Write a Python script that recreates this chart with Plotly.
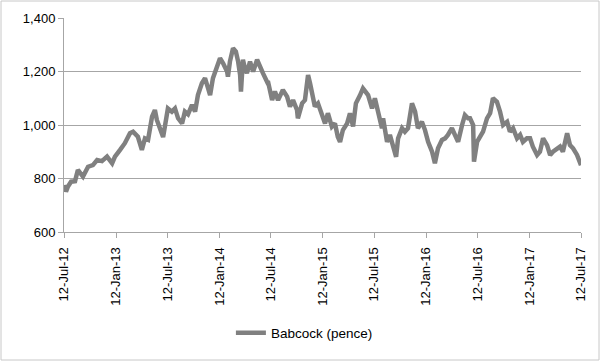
import plotly.graph_objects as go

dates = [
    "2012-07-15", "2012-07-19", "2012-07-26", "2012-08-06", "2012-08-20", "2012-08-30",
    "2012-09-17", "2012-10-05", "2012-10-22", "2012-11-06", "2012-11-23", "2012-12-11",
    "2012-12-29", "2013-01-08", "2013-01-26", "2013-02-12", "2013-03-02", "2013-03-13",
    "2013-03-30", "2013-04-13", "2013-04-24", "2013-05-05", "2013-05-19", "2013-05-29",
    "2013-06-05", "2013-06-16", "2013-06-27", "2013-07-14", "2013-07-28", "2013-08-08",
    "2013-08-19", "2013-09-02", "2013-09-12", "2013-09-23", "2013-10-07", "2013-10-18",
    "2013-10-28", "2013-11-11", "2013-11-22", "2013-12-03", "2013-12-10", "2013-12-20",
    "2014-01-03", "2014-01-14", "2014-01-25", "2014-02-08", "2014-02-11", "2014-02-18",
    "2014-03-01", "2014-03-11", "2014-03-19", "2014-03-26", "2014-03-29", "2014-04-05",
    "2014-04-12", "2014-04-19", "2014-04-30", "2014-05-11", "2014-05-25", "2014-06-04",
    "2014-06-15", "2014-06-29", "2014-07-02", "2014-07-17", "2014-07-27", "2014-08-07",
    "2014-08-24", "2014-09-08", "2014-09-18", "2014-09-29", "2014-10-13", "2014-10-16",
    "2014-10-31", "2014-11-10", "2014-11-21", "2014-11-28", "2014-12-05", "2014-12-15",
    "2014-12-26", "2015-01-09", "2015-01-20", "2015-01-30", "2015-02-13", "2015-02-24",
    "2015-03-06", "2015-03-14", "2015-03-24", "2015-04-08", "2015-04-18", "2015-04-29",
    "2015-05-09", "2015-05-23", "2015-06-03", "2015-06-21", "2015-07-05", "2015-07-15",
    "2015-07-26", "2015-08-09", "2015-08-13", "2015-08-27", "2015-09-06", "2015-09-17",
    "2015-09-28", "2015-10-05", "2015-10-19", "2015-10-29", "2015-11-09", "2015-11-23",
    "2015-12-04", "2015-12-14", "2015-12-28", "2016-01-08", "2016-01-19", "2016-02-02",
    "2016-02-12", "2016-02-23", "2016-03-08", "2016-03-19", "2016-03-29", "2016-04-12",
    "2016-04-23", "2016-05-04", "2016-05-18", "2016-05-28", "2016-06-08", "2016-06-15",
    "2016-06-26", "2016-06-29", "2016-07-10", "2016-07-20", "2016-07-31", "2016-08-14",
    "2016-08-25", "2016-09-04", "2016-09-18", "2016-09-29", "2016-10-10", "2016-10-24",
    "2016-11-03", "2016-11-14", "2016-11-28", "2016-12-09", "2016-12-19", "2017-01-02",
    "2017-01-13", "2017-01-23", "2017-02-07", "2017-02-17", "2017-02-28", "2017-03-14",
    "2017-03-25", "2017-04-04", "2017-04-18", "2017-04-29", "2017-05-09", "2017-05-24",
    "2017-06-03", "2017-06-14", "2017-06-28", "2017-07-09", "2017-07-12",
]

babcock_pence = [
    776, 751, 770, 788, 790, 832,
    807, 844, 850, 869, 865, 882,
    857, 882, 907, 932, 969, 975,
    956, 907, 950, 945, 1031, 1056,
    1019, 981, 955, 1062, 1050, 1062,
    1025, 1006, 1050, 1040, 1075, 1050,
    1112, 1156, 1175, 1137, 1112, 1175,
    1212, 1250, 1231, 1200, 1181, 1237,
    1287, 1275, 1237, 1187, 1125, 1244,
    1212, 1194, 1237, 1200, 1244, 1215,
    1193, 1162, 1165, 1093, 1125, 1093,
    1131, 1106, 1069, 1093, 1056, 1025,
    1081, 1093, 1187, 1156, 1119, 1069,
    1081, 1044, 1006, 1044, 994, 1006,
    956, 937, 981, 1006, 1044, 994,
    1081, 1110, 1137, 1112, 1062, 1100,
    1050, 988, 1025, 937, 963, 925,
    881, 950, 988, 975, 988, 1081,
    1050, 988, 1012, 981, 937, 900,
    857, 913, 944, 950, 963, 988,
    963, 937, 1000, 1037, 1025, 1025,
    1000, 863, 937, 956, 975, 1025,
    1044, 1100, 1087, 1050, 1000, 1012,
    975, 988, 950, 963, 937, 950,
    950, 919, 888, 900, 950, 925,
    888, 900, 913, 919, 900, 969,
    925, 913, 888, 857, 850,
]

x_ticks = [
    "2012-07-12", "2013-01-12", "2013-07-12", "2014-01-12", "2014-07-12", "2015-01-12",
    "2015-07-12", "2016-01-12", "2016-07-12", "2017-01-12", "2017-07-12",
]
y_ticks = [600, 800, 1000, 1200, 1400]
series_name = "Babcock (pence)"

fig = go.Figure()
fig.add_trace(go.Scatter(
    x=dates, y=babcock_pence, mode="lines", name=series_name,
    line=dict(color="#808080", width=4.5),
))

font_family = "Liberation Sans, Arial, sans-serif"

fig.update_layout(
    width=602, height=362,
    margin=dict(l=64, r=21, t=18, b=130),
    paper_bgcolor="white", plot_bgcolor="white",
    font=dict(family=font_family, size=13, color="#000000"),
    showlegend=True,
    legend=dict(orientation="h", x=0.465, xanchor="center", y=-0.472, yanchor="middle",
                font=dict(size=13.5, color="#000000")),
    xaxis=dict(
        type="date",
        range=[x_ticks[0], x_ticks[-1]],
        tickvals=x_ticks, tickformat="%d-%b-%y", tickangle=-90,
        showgrid=False, showline=True, linecolor="#a6a6a6", linewidth=1,
        ticks="outside", ticklen=5, tickcolor="#a6a6a6",
        ticklabelstandoff=4,
        tickfont=dict(size=13, color="#000000"),
    ),
    yaxis=dict(
        range=[600, 1400], tickvals=y_ticks, tickformat=",d",
        showgrid=True, gridcolor="#a6a6a6", gridwidth=1,
        showline=True, linecolor="#a6a6a6", linewidth=1,
        ticks="outside", ticklen=5, tickcolor="#a6a6a6",
        tickfont=dict(size=13, color="#000000"),
        zeroline=False,
    ),
    shapes=[dict(
        type="rect", xref="paper", yref="paper",
        x0=(1 - 64) / 517, x1=(599 - 64) / 517,
        y0=(232 - 360) / 214, y1=(232 - 1) / 214,
        line=dict(color="#c8c8c8", width=1), fillcolor="rgba(0,0,0,0)",
        layer="below",
    )],
)

fig.write_html("out.html")
